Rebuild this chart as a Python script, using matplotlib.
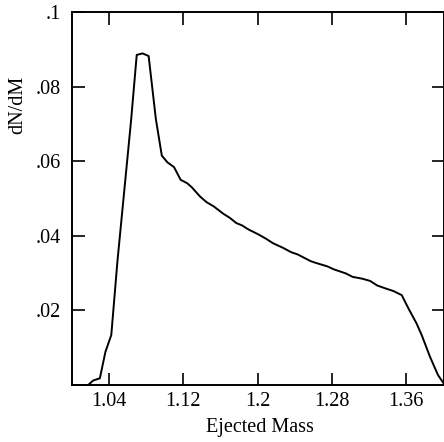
import matplotlib
matplotlib.use("Agg")
import matplotlib.pyplot as plt
from matplotlib.ticker import FixedLocator, FixedFormatter

plt.rcParams['font.family'] = ['Liberation Serif', 'DejaVu Serif']

# ejected mass vs dN/dM
mass = [1.0, 1.0174, 1.0228, 1.030, 1.036, 1.0423, 1.049, 1.0636, 1.0697, 1.076,
        1.0825, 1.0903, 1.0967, 1.1027, 1.1099, 1.117, 1.124, 1.129, 1.138, 1.145,
        1.1525, 1.163, 1.170, 1.177, 1.183, 1.190, 1.2005, 1.209, 1.2165, 1.227,
        1.236, 1.243, 1.250, 1.257, 1.263, 1.275, 1.282, 1.295, 1.302, 1.3125,
        1.321, 1.3285, 1.3374, 1.346, 1.355, 1.3623, 1.371, 1.3765, 1.3854, 1.394,
        1.4]
dndm = [0.0, 0.0, 0.0012, 0.0018, 0.0089, 0.0134, 0.0334, 0.0709, 0.0885, 0.0889,
        0.0882, 0.0713, 0.0615, 0.0597, 0.0584, 0.055, 0.0541, 0.053, 0.0505, 0.049,
        0.0479, 0.0459, 0.0448, 0.0434, 0.0428, 0.0417, 0.0404, 0.0392, 0.038, 0.0368,
        0.0356, 0.035, 0.0341, 0.0332, 0.0327, 0.0318, 0.031, 0.0299, 0.029, 0.0285,
        0.0279, 0.0267, 0.0259, 0.0252, 0.0241, 0.0205, 0.0165, 0.0134, 0.0076, 0.0027,
        0.0005]

xticks = [1.04, 1.12, 1.2, 1.28, 1.36]
xlabels = ['1.04', '1.12', '1.2', '1.28', '1.36']
yticks = [0.02, 0.04, 0.06, 0.08, 0.1]
ylabels = ['.02', '.04', '.06', '.08', '.1']

fig = plt.figure(figsize=(4.44, 4.42), dpi=100)
ax = fig.add_axes([72 / 444, 1 - 385 / 442, 371.5 / 444, 373 / 442])
ax.plot(mass, dndm, color='black', lw=1.4, clip_on=False)

ax.set_xlim(1.0, 1.4)
ax.set_ylim(0, 0.1)
ax.xaxis.set_major_locator(FixedLocator(xticks))
ax.xaxis.set_major_formatter(FixedFormatter(xlabels))
ax.yaxis.set_major_locator(FixedLocator(yticks))
ax.yaxis.set_major_formatter(FixedFormatter(ylabels))
ax.tick_params(direction='in', length=9, width=1.2, labelsize=14.5,
               top=True, right=True, colors='black')
ax.tick_params(axis='x', pad=5)
ax.tick_params(axis='y', pad=8)

for s in ax.spines.values():
    s.set_linewidth(1.4)

ax.set_xlabel('Ejected Mass', fontsize=14.5)
ax.set_ylabel('dN/dM', fontsize=14.5)
ax.xaxis.set_label_coords(0.506, -0.088)
ax.yaxis.set_label_coords(-0.12, 0.75)

fig.savefig('out.png', dpi=100)
